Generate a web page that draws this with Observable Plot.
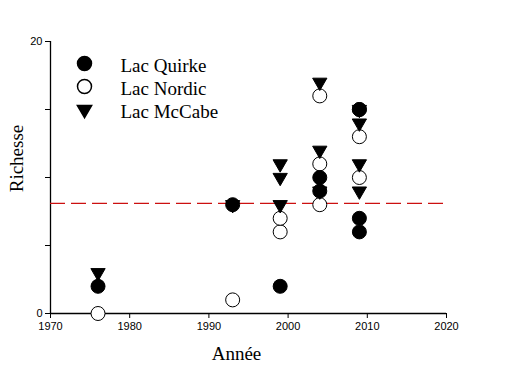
<!DOCTYPE html>
<html>
<head>
<meta charset="utf-8">
<script src="https://cdn.jsdelivr.net/npm/d3@7"></script>
<script src="https://cdn.jsdelivr.net/npm/@observablehq/plot@0.6"></script>
<style>
  html, body { margin: 0; padding: 0; background: #fff; }
  #chart svg { display: block; }
</style>
</head>
<body>
<div id="chart"></div>
<script>
const seriesNames = ["Lac Quirke", "Lac Nordic", "Lac McCabe"];

const quirkeYears  = [1976, 1993, 1999, 2004, 2004, 2009, 2009, 2009];
const quirkeValues = [2, 8, 2, 9, 10, 6, 7, 15];

const nordicYears  = [1976, 1993, 1999, 1999, 2004, 2004, 2004, 2009, 2009, 2009];
const nordicValues = [0, 1, 6, 7, 8, 11, 16, 10, 13, 15];

const mccabeYears  = [1976, 1993, 1999, 1999, 1999, 2004, 2004, 2004, 2009, 2009, 2009, 2009];
const mccabeValues = [3, 8, 8, 10, 11, 9, 12, 17, 9, 11, 14, 15];

const meanRichesse = 8.1;

const xTicks = [1970, 1980, 1990, 2000, 2010, 2020];
const yTicks = [0, 5, 10, 15, 20];
const yTickLabels = ["0", "", "", "", "20"];

const toRows = (years, values) => years.map((y, i) => ({year: y, value: values[i]}));
const quirke = toRows(quirkeYears, quirkeValues);
const nordic = toRows(nordicYears, nordicValues);
const mccabe = toRows(mccabeYears, mccabeValues);

const serif = "'Liberation Serif', 'Times New Roman', serif";

// legend styling per series (Quirke, Nordic, McCabe)
const legendStyles = [
  {symbol: "circle", fill: "black", r: 7, rotate: 0},
  {symbol: "circle", fill: "white", r: 7, rotate: 0},
  {symbol: "triangle", fill: "black", r: 5.3, rotate: 180}
];
const legendMarks = seriesNames.flatMap((name, i) => [
  Plot.dot([name], {
    frameAnchor: "top-left", dx: 34, dy: 22 + i * 23,
    symbol: legendStyles[i].symbol, fill: legendStyles[i].fill, stroke: "black",
    r: legendStyles[i].r, rotate: legendStyles[i].rotate
  }),
  Plot.text([name], {
    frameAnchor: "top-left", dx: 70, dy: 24 + i * 23, textAnchor: "start", lineAnchor: "middle",
    fontFamily: serif, fontSize: 19, fill: "black", text: d => d
  })
]);

const chart = Plot.plot({
  width: 507,
  height: 376,
  marginLeft: 50,
  marginRight: 61,
  marginTop: 41,
  marginBottom: 63,
  style: {fontFamily: "'Liberation Sans', Arial, sans-serif", fontSize: "11px", background: "white", color: "black"},
  x: {domain: [1970, 2020], label: null},
  y: {domain: [0, 20], label: null},
  marks: [
    Plot.axisX({ticks: xTicks, tickFormat: d => String(d), tickSize: 5, tickPadding: 4, label: null, fontSize: 11}),
    Plot.axisY({ticks: yTicks, tickFormat: d => yTickLabels[yTicks.indexOf(d)], tickSize: 5, tickPadding: 3, label: null, fontSize: 11}),
    Plot.ruleX([1970], {stroke: "black", strokeWidth: 1.3}),
    Plot.ruleY([0], {stroke: "black", strokeWidth: 1.3}),
    Plot.ruleY([meanRichesse], {stroke: "#cc1010", strokeWidth: 1.4, strokeDasharray: "15,6"}),
    Plot.dot(nordic, {x: "year", y: "value", symbol: "circle", r: 7, fill: "white", stroke: "black", strokeWidth: 1}),
    Plot.dot(quirke, {x: "year", y: "value", symbol: "circle", r: 7, fill: "black", stroke: "black", strokeWidth: 1}),
    Plot.dot(mccabe, {x: "year", y: "value", symbol: "triangle", r: 5.3, rotate: 180, fill: "black", stroke: "black", strokeWidth: 1}),
    ...legendMarks,
    Plot.text(["Année"], {frameAnchor: "bottom", dx: -12, dy: 46, fontFamily: serif, fontSize: 19, fill: "black", text: d => d}),
    Plot.text(["Richesse"], {frameAnchor: "left", textAnchor: "middle", dx: -34, dy: -19, rotate: -90, fontFamily: serif, fontSize: 19, fill: "black", text: d => d})
  ]
});

document.getElementById("chart").appendChild(chart);
</script>
</body>
</html>
